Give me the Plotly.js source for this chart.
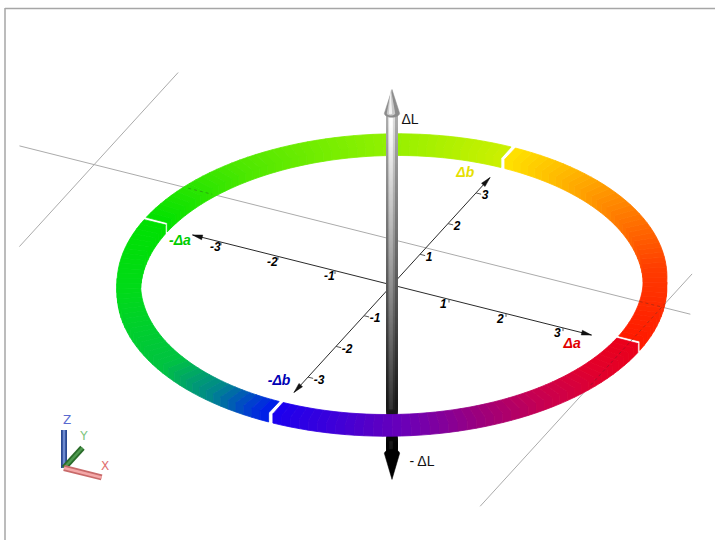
<!DOCTYPE html>
<html><head><meta charset="utf-8">
<script src="https://cdn.plot.ly/plotly-3.0.1.min.js"></script>
<style>html,body{margin:0;padding:0;background:#fff;}#chart{width:715px;height:540px;}</style>
</head><body><div id="chart"></div>
<script>
// ---------------- data ----------------
const tickValues = [-3, -2, -1, 1, 2, 3];
const tickLabels = ['-3', '-2', '-1', '1', '2', '3'];
const axisNames = ['Δa', '-Δa', 'Δb', '-Δb'];
const lightnessNames = ['ΔL', '- ΔL'];
const ucsNames = ['X', 'Y', 'Z'];
// hue wheel: angle (deg, from +Δa towards +Δb) -> colour, one list per quarter
const quarterAngles = [[0, 30, 60, 90], [90, 120, 150, 180], [180, 210, 240, 255, 265, 270], [270, 285, 300, 315, 330, 345, 360]];
const quarterColours = [
  [[255, 25, 0], [255, 60, 0], [255, 140, 0], [255, 228, 0]],
  [[205, 240, 0], [140, 240, 0], [80, 232, 0], [0, 225, 0]],
  [[0, 225, 0], [0, 218, 25], [0, 195, 65], [0, 135, 140], [0, 60, 210], [0, 20, 240]],
  [[25, 0, 240], [65, 0, 215], [110, 0, 180], [155, 0, 125], [200, 0, 80], [225, 0, 45], [235, 0, 25]]
];
const axisExtent = 3.5;

// ---------------- view / geometry (layout) ----------------
const VIEW = { ox: 392, oy: 285, ua: [57, 14.3], vb: [28, -30.7], wz: 54 };
function P(a, b, l) { return [VIEW.ox + a * VIEW.ua[0] + b * VIEW.vb[0], VIEW.oy + a * VIEW.ua[1] + b * VIEW.vb[1] - (l || 0) * VIEW.wz]; }
const RING = { inner: 3.96, outer: 4.33, zTop: 0.085, zBot: -0.085, gapDeg: 0.5, segDeg: 2 };
const SHAFT = { bottom: -3.12, top: 3.18, topTip: 3.62, bottomTip: -3.6, coneR: 0.12 };
const GRID = [
  { fixed: 'b', value: 1.21, from: -7.13, to: 4.64 },
  { fixed: 'a', value: -5.82, from: -1.46, to: 4.21 },
  { fixed: 'a', value: 4.14, from: -5.28, to: 2.29 }
];
const NAME_POS = [[3.34, -0.367], [-3.6, -0.244], [-0.4, 3.43], [-0.36, -3.30]];
const NAME_COL = ['#e00000', '#00cc00', '#e6e000', '#0000b4'];
const L_POS = [[3.04, 18], [-3.28, 30]];
const UCS = { origin: [64, 468], len: 0.66, zlen: 38 };
const FONT = 'Liberation Sans, Arial, sans-serif';

const traces = [];
function lineTr(pts, color, width, dash) {
  return { type: 'scatter', mode: 'lines', x: pts.map(p => p ? p[0] : null), y: pts.map(p => p ? p[1] : null),
    line: { color: color, width: width, dash: dash || 'solid', simplify: false }, hoverinfo: 'skip', connectgaps: false };
}
function polyTr(list, fill, lw) {
  const x = [], y = [];
  list.forEach((pts, k) => {
    if (k) { x.push(null); y.push(null); }
    pts.concat([pts[0]]).forEach(p => { x.push(p[0]); y.push(p[1]); });
  });
  return { type: 'scatter', mode: 'lines', x: x, y: y, fill: 'toself', fillcolor: fill,
    line: { color: fill, width: lw === undefined ? 0.8 : lw, simplify: false }, hoverinfo: 'skip' };
}
const rgb = c => 'rgb(' + c.map(v => Math.round(Math.max(0, Math.min(255, v)))).join(',') + ')';
function colourAt(q, deg) {
  const A = quarterAngles[q], C = quarterColours[q];
  for (let i = 0; i < A.length - 1; i++) {
    if (deg <= A[i + 1] || i === A.length - 2) {
      const t = Math.max(0, Math.min(1, (deg - A[i]) / (A[i + 1] - A[i])));
      return C[i].map((v, k) => v + (C[i + 1][k] - v) * t);
    }
  }
}

// ---- grid lines (solid, underneath) ----
function gridPoint(g, t) { return g.fixed === 'b' ? [t, g.value] : [g.value, t]; }
GRID.forEach(g => {
  const p0 = gridPoint(g, g.from), p1 = gridPoint(g, g.to);
  traces.push(lineTr([P(p0[0], p0[1], 0), P(p1[0], p1[1], 0)], '#ababab', 1));
});

// ---- Δa / Δb axes ----
function arrowHead(tip, from, len, hw, color) {
  const dx = tip[0] - from[0], dy = tip[1] - from[1], n = Math.hypot(dx, dy);
  const ux = dx / n, uy = dy / n;
  const bx = tip[0] - ux * len, by = tip[1] - uy * len;
  return polyTr([[tip, [bx - uy * hw, by + ux * hw], [bx + uy * hw, by - ux * hw]]], color, 0.5);
}
const aNeg = P(-axisExtent, 0, 0), aPos = P(axisExtent, 0, 0), bNeg = P(0, -axisExtent, 0), bPos = P(0, axisExtent, 0);
traces.push(lineTr([aNeg, aPos], '#2a2a2a', 1));
traces.push(lineTr([bNeg, bPos], '#2a2a2a', 1));
traces.push(arrowHead(aPos, aNeg, 10, 2.4, '#111'));
traces.push(arrowHead(aNeg, aPos, 10, 2.4, '#111'));
traces.push(arrowHead(bPos, bNeg, 10, 2.4, '#111'));
traces.push(arrowHead(bNeg, bPos, 10, 2.4, '#111'));
const tickSegs = [];
tickValues.forEach(v => {
  tickSegs.push(P(v, 0, 0), P(v, 0, -0.06), null);
  tickSegs.push(P(0, v, 0), P(0.09, v, 0), null);
});
traces.push(lineTr(tickSegs, '#555', 1));

// ---- ring ----
const ringBack = [], ringFront = [];
const rp = (R, deg, z) => { const r = deg * Math.PI / 180; return P(R * Math.cos(r), R * Math.sin(r), z); };
for (let q = 0; q < 4; q++) {
  const t0 = q * 90 + RING.gapDeg, t1 = (q + 1) * 90 - RING.gapDeg;
  const n = Math.ceil((t1 - t0) / RING.segDeg);
  for (let i = 0; i < n; i++) {
    const a0 = t0 + (t1 - t0) * i / n, a1 = t0 + (t1 - t0) * (i + 1) / n, am = (a0 + a1) / 2;
    const rad = am * Math.PI / 180;
    const front = VIEW.ua[1] * Math.cos(rad) + VIEW.vb[1] * Math.sin(rad) > 0;
    const Ro = RING.outer, Ri = RING.inner, zt = RING.zTop, zb = RING.zBot;
    const top = [rp(Ro, a0, zt), rp(Ro, a1, zt), rp(Ri, a1, zt), rp(Ri, a0, zt)];
    const wall = front ? [rp(Ro, a0, zt), rp(Ro, a1, zt), rp(Ro, a1, zb), rp(Ro, a0, zb)]
                       : [rp(Ri, a0, zt), rp(Ri, a1, zt), rp(Ri, a1, zb), rp(Ri, a0, zb)];
    (front ? ringFront : ringBack).push(polyTr([top, wall], rgb(colourAt(q, am))));
  }
}
ringBack.forEach(t => traces.push(t));

// ---- ΔL shaft (hidden where the front of the ring passes in front of it) ----
const thFront = Math.atan2(-VIEW.ua[0], VIEW.vb[0]) * 180 / Math.PI;
const occTop = rp(RING.inner, thFront, RING.zTop)[1] + 0.5, occBot = rp(RING.outer, thFront, RING.zBot)[1] - 0.5;
function grayAt(L) { return L >= 0 ? 128 + 117 * L / SHAFT.top : 128 * (1 + L / -SHAFT.bottom); }
const yTop = P(0, 0, SHAFT.top)[1] + 4, yBot = P(0, 0, SHAFT.bottom)[1] - 4;
const sy = [], sL = [];
for (let y = yTop; y <= yBot; y += 1) {
  if (y + 5 > occTop && y - 5 < occBot && y > occTop + 5 && y < occBot - 5) continue;
  if (y > occTop && y < occBot) continue;
  sy.push(y); sL.push((VIEW.oy - y) / VIEW.wz);
}
const cx = P(0, 0, 0)[0];
function shaftLayer(sz, f, dx, add, sel) {
  const ys = sy.filter(sel), Ls = sL.filter((_, i) => sel(sy[i]));
  return { type: 'scatter', mode: 'markers', x: ys.map(() => cx + dx), y: ys,
    marker: { symbol: 'square', size: sz, line: { width: 0 },
      color: Ls.map(L => { const g = grayAt(L) * f + add; return rgb([g, g, g]); }) }, hoverinfo: 'skip' };
}
// above the ring part: squares must not spill into the ring, so use points clear of it
const above = y => y <= occTop - 5.5, below = y => y >= occBot + 5.5;
[[11, 0.72, 0, 0], [7, 0.93, -0.5, 0], [3, 1.0, -1, 18]].forEach(s => {
  traces.push(shaftLayer(s[0], s[1], s[2], s[3], above));
  traces.push(shaftLayer(s[0], s[1], s[2], s[3], below));
});
// cones
function arc(baseL, r, d0, d1) {
  const pts = [];
  for (let d = d0; d <= d1 + 1e-9; d += 6) { const rr = d * Math.PI / 180; pts.push(P(r * Math.cos(rr), r * Math.sin(rr), baseL)); }
  return pts;
}
const xMaxDeg = Math.atan2(VIEW.vb[0], VIEW.ua[0]) * 180 / Math.PI;
function topCone(r, dx) { return [P(0, 0, SHAFT.topTip)].concat(arc(SHAFT.top, r, xMaxDeg - 180, xMaxDeg)).map(p => [p[0] + dx, p[1]]); }
traces.push(polyTr([topCone(SHAFT.coneR, 0)], '#8c8c8c', 0.5));
traces.push(polyTr([topCone(SHAFT.coneR * 0.55, -1)], '#c9c9c9', 0));
traces.push(polyTr([topCone(SHAFT.coneR * 0.22, -1.5)], '#f2f2f2', 0));
traces.push(polyTr([arc(SHAFT.bottom, SHAFT.coneR, xMaxDeg, xMaxDeg + 180).concat([P(0, 0, SHAFT.bottomTip)])], '#000000', 0.5));
// shaft segments adjoining the ring edges (thin bands so nothing spills over the ring)
const bandYs = [[occTop - 5.5, occTop], [occBot, occBot + 5.5]];
bandYs.forEach(([y0, y1]) => {
  for (let y = y0; y < y1; y += 1) {
    const L = (VIEW.oy - y - 0.5) / VIEW.wz, g = grayAt(L);
    traces.push(polyTr([[[cx - 5.5, y], [cx + 5.5, y], [cx + 5.5, Math.min(y + 1.2, y1)], [cx - 5.5, Math.min(y + 1.2, y1)]]], rgb([g * 0.8, g * 0.8, g * 0.8]), 0));
  }
});

ringFront.forEach(t => traces.push(t));

// ---- grid overlay where it crosses the ring ----
GRID.forEach(g => {
  const pts = []; let inside = false;
  for (let t = g.from; t <= g.to; t += 0.01) {
    const p = gridPoint(g, t), r = Math.hypot(p[0], p[1]);
    if (r >= RING.inner - 0.02 && r <= RING.outer + 0.02) { pts.push(P(p[0], p[1], 0)); inside = true; }
    else if (inside) { pts.push(null); inside = false; }
  }
  traces.push(lineTr(pts, 'rgba(50,50,50,0.35)', 1, 'dot'));
});

// ---- labels ----
traces.push({ type: 'scatter', mode: 'text', x: tickValues.map(v => P(v, -0.2, 0)[0]), y: tickValues.map(v => P(v, -0.2, 0)[1]),
  text: tickLabels, textposition: 'middle center', hoverinfo: 'skip',
  textfont: { family: FONT, size: 12, color: '#000', weight: 'bold', style: 'italic' } });
traces.push({ type: 'scatter', mode: 'text', x: tickValues.map(v => P(0.1, v, 0)[0]), y: tickValues.map(v => P(0.1, v, 0)[1] + 2),
  text: tickLabels, textposition: 'middle right', hoverinfo: 'skip',
  textfont: { family: FONT, size: 12, color: '#000', weight: 'bold', style: 'italic' } });
traces.push({ type: 'scatter', mode: 'text', x: NAME_POS.map(p => P(p[0], p[1], 0)[0]), y: NAME_POS.map(p => P(p[0], p[1], 0)[1]),
  text: axisNames, textposition: 'middle center', hoverinfo: 'skip',
  textfont: { family: FONT, size: 14, color: NAME_COL, weight: 'bold', style: 'italic' } });
traces.push({ type: 'scatter', mode: 'text', x: L_POS.map(p => P(0, 0, p[0])[0] + p[1]), y: L_POS.map(p => P(0, 0, p[0])[1]),
  text: lightnessNames, textposition: 'middle center', hoverinfo: 'skip',
  textfont: { family: FONT, size: 14, color: '#111' } });

// ---- UCS icon ----
const O = UCS.origin;
const ucsEnds = [
  [O[0] + UCS.len * VIEW.ua[0], O[1] + UCS.len * VIEW.ua[1]],
  [O[0] + UCS.len * VIEW.vb[0], O[1] + UCS.len * VIEW.vb[1]],
  [O[0], O[1] - UCS.zlen]
];
const ucsDark = ['#c86a6a', '#2a6b2a', '#2b4a92'], ucsLight = ['#f4a8a8', '#4f9a4f', '#6d8ad0'], ucsText = ['#e07070', '#7cc47c', '#5a6ad0'];
[2, 1, 0].forEach(k => {
  traces.push(lineTr([O, ucsEnds[k]], ucsDark[k], 6));
  traces.push(lineTr([O, ucsEnds[k]], ucsLight[k], 2.5));
});
const ucsLab = [[3.5, -10], [1.5, -10.5], [3, -9]];
traces.push({ type: 'scatter', mode: 'text', x: ucsEnds.map((e, k) => e[0] + ucsLab[k][0]), y: ucsEnds.map((e, k) => e[1] + ucsLab[k][1]),
  text: ucsNames, textposition: 'middle center', hoverinfo: 'skip',
  textfont: { family: 'DejaVu Sans, sans-serif', size: 12, color: ucsText } });

const layout = {
  width: 715, height: 540, margin: { l: 0, r: 0, t: 0, b: 0 },
  xaxis: { range: [0, 715], visible: false, fixedrange: true },
  yaxis: { range: [540, 0], visible: false, fixedrange: true },
  showlegend: false, hovermode: false,
  paper_bgcolor: '#ffffff', plot_bgcolor: '#ffffff',
  shapes: [
    { type: 'line', xref: 'x', yref: 'y', x0: 5, x1: 715, y0: 8.5, y1: 8.5, line: { color: '#a6a6a6', width: 1.5 } },
    { type: 'line', xref: 'x', yref: 'y', x0: 5, x1: 5, y0: 8, y1: 540, line: { color: '#a6a6a6', width: 1.5 } }
  ]
};
Plotly.newPlot('chart', traces, layout, { staticPlot: true, displayModeBar: false });
</script></body></html>
